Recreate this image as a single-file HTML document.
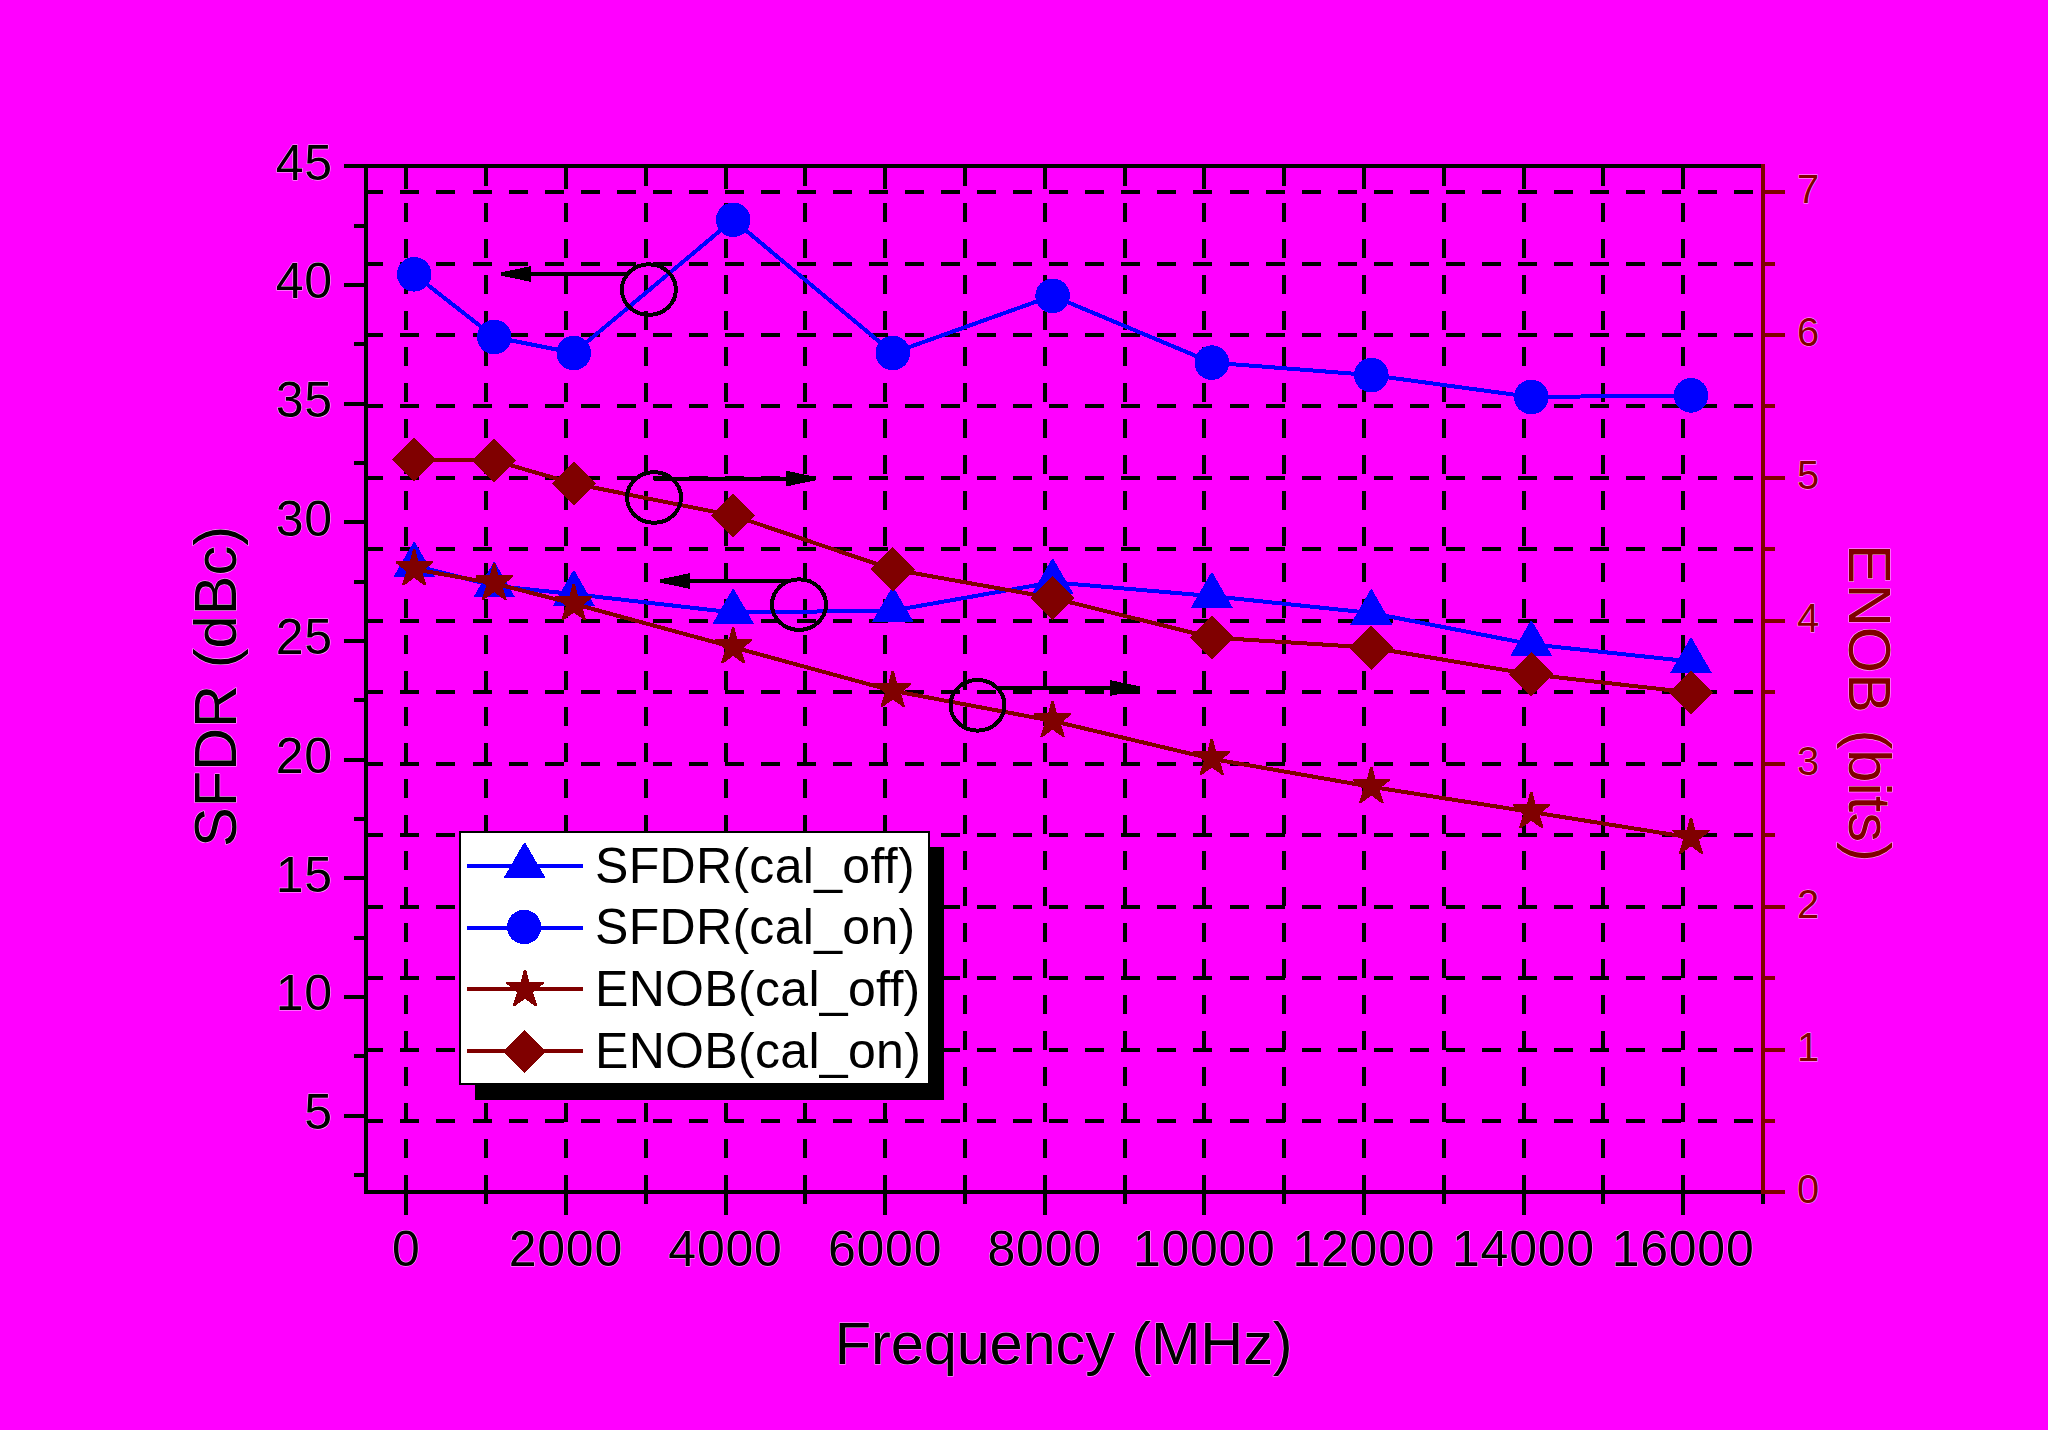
<!DOCTYPE html>
<html lang="en">
<head>
<meta charset="utf-8">
<title>SFDR and ENOB versus Frequency</title>
<style>
html,body{margin:0;padding:0;background:#FF00FF;}
body{width:2048px;height:1430px;overflow:hidden;font-family:"Liberation Sans", sans-serif;}
svg{display:block;position:absolute;left:0;top:0;}
text{font-family:"Liberation Sans", sans-serif;paint-order:stroke fill;stroke:#ffffff;stroke-width:1px;stroke-opacity:0.75;stroke-linejoin:round;}
</style>
</head>
<body>
<svg width="2048" height="1430" viewBox="0 0 2048 1430">
<rect x="0" y="0" width="2048" height="1430" fill="#FF00FF"/>
<g shape-rendering="crispEdges">
<path fill="#000000" d="M404 167h4v19h-4zM404 203h4v19h-4zM404 239h4v19h-4zM404 275h4v19h-4zM404 311h4v19h-4zM404 347h4v19h-4zM404 383h4v19h-4zM404 419h4v19h-4zM404 455h4v19h-4zM404 491h4v19h-4zM404 527h4v19h-4zM404 563h4v19h-4zM404 599h4v19h-4zM404 635h4v19h-4zM404 671h4v19h-4zM404 707h4v19h-4zM404 743h4v19h-4zM404 779h4v19h-4zM404 815h4v19h-4zM404 851h4v19h-4zM404 887h4v19h-4zM404 923h4v19h-4zM404 959h4v19h-4zM404 995h4v19h-4zM404 1031h4v19h-4zM404 1067h4v19h-4zM404 1103h4v19h-4zM404 1139h4v19h-4zM404 1175h4v19h-4zM484 167h4v19h-4zM484 203h4v19h-4zM484 239h4v19h-4zM484 275h4v19h-4zM484 311h4v19h-4zM484 347h4v19h-4zM484 383h4v19h-4zM484 419h4v19h-4zM484 455h4v19h-4zM484 491h4v19h-4zM484 527h4v19h-4zM484 563h4v19h-4zM484 599h4v19h-4zM484 635h4v19h-4zM484 671h4v19h-4zM484 707h4v19h-4zM484 743h4v19h-4zM484 779h4v19h-4zM484 815h4v19h-4zM484 851h4v19h-4zM484 887h4v19h-4zM484 923h4v19h-4zM484 959h4v19h-4zM484 995h4v19h-4zM484 1031h4v19h-4zM484 1067h4v19h-4zM484 1103h4v19h-4zM484 1139h4v19h-4zM484 1175h4v19h-4zM564 167h4v19h-4zM564 203h4v19h-4zM564 239h4v19h-4zM564 275h4v19h-4zM564 311h4v19h-4zM564 347h4v19h-4zM564 383h4v19h-4zM564 419h4v19h-4zM564 455h4v19h-4zM564 491h4v19h-4zM564 527h4v19h-4zM564 563h4v19h-4zM564 599h4v19h-4zM564 635h4v19h-4zM564 671h4v19h-4zM564 707h4v19h-4zM564 743h4v19h-4zM564 779h4v19h-4zM564 815h4v19h-4zM564 851h4v19h-4zM564 887h4v19h-4zM564 923h4v19h-4zM564 959h4v19h-4zM564 995h4v19h-4zM564 1031h4v19h-4zM564 1067h4v19h-4zM564 1103h4v19h-4zM564 1139h4v19h-4zM564 1175h4v19h-4zM644 167h4v19h-4zM644 203h4v19h-4zM644 239h4v19h-4zM644 275h4v19h-4zM644 311h4v19h-4zM644 347h4v19h-4zM644 383h4v19h-4zM644 419h4v19h-4zM644 455h4v19h-4zM644 491h4v19h-4zM644 527h4v19h-4zM644 563h4v19h-4zM644 599h4v19h-4zM644 635h4v19h-4zM644 671h4v19h-4zM644 707h4v19h-4zM644 743h4v19h-4zM644 779h4v19h-4zM644 815h4v19h-4zM644 851h4v19h-4zM644 887h4v19h-4zM644 923h4v19h-4zM644 959h4v19h-4zM644 995h4v19h-4zM644 1031h4v19h-4zM644 1067h4v19h-4zM644 1103h4v19h-4zM644 1139h4v19h-4zM644 1175h4v19h-4zM724 167h4v19h-4zM724 203h4v19h-4zM724 239h4v19h-4zM724 275h4v19h-4zM724 311h4v19h-4zM724 347h4v19h-4zM724 383h4v19h-4zM724 419h4v19h-4zM724 455h4v19h-4zM724 491h4v19h-4zM724 527h4v19h-4zM724 563h4v19h-4zM724 599h4v19h-4zM724 635h4v19h-4zM724 671h4v19h-4zM724 707h4v19h-4zM724 743h4v19h-4zM724 779h4v19h-4zM724 815h4v19h-4zM724 851h4v19h-4zM724 887h4v19h-4zM724 923h4v19h-4zM724 959h4v19h-4zM724 995h4v19h-4zM724 1031h4v19h-4zM724 1067h4v19h-4zM724 1103h4v19h-4zM724 1139h4v19h-4zM724 1175h4v19h-4zM803 167h4v19h-4zM803 203h4v19h-4zM803 239h4v19h-4zM803 275h4v19h-4zM803 311h4v19h-4zM803 347h4v19h-4zM803 383h4v19h-4zM803 419h4v19h-4zM803 455h4v19h-4zM803 491h4v19h-4zM803 527h4v19h-4zM803 563h4v19h-4zM803 599h4v19h-4zM803 635h4v19h-4zM803 671h4v19h-4zM803 707h4v19h-4zM803 743h4v19h-4zM803 779h4v19h-4zM803 815h4v19h-4zM803 851h4v19h-4zM803 887h4v19h-4zM803 923h4v19h-4zM803 959h4v19h-4zM803 995h4v19h-4zM803 1031h4v19h-4zM803 1067h4v19h-4zM803 1103h4v19h-4zM803 1139h4v19h-4zM803 1175h4v19h-4zM883 167h4v19h-4zM883 203h4v19h-4zM883 239h4v19h-4zM883 275h4v19h-4zM883 311h4v19h-4zM883 347h4v19h-4zM883 383h4v19h-4zM883 419h4v19h-4zM883 455h4v19h-4zM883 491h4v19h-4zM883 527h4v19h-4zM883 563h4v19h-4zM883 599h4v19h-4zM883 635h4v19h-4zM883 671h4v19h-4zM883 707h4v19h-4zM883 743h4v19h-4zM883 779h4v19h-4zM883 815h4v19h-4zM883 851h4v19h-4zM883 887h4v19h-4zM883 923h4v19h-4zM883 959h4v19h-4zM883 995h4v19h-4zM883 1031h4v19h-4zM883 1067h4v19h-4zM883 1103h4v19h-4zM883 1139h4v19h-4zM883 1175h4v19h-4zM963 167h4v19h-4zM963 203h4v19h-4zM963 239h4v19h-4zM963 275h4v19h-4zM963 311h4v19h-4zM963 347h4v19h-4zM963 383h4v19h-4zM963 419h4v19h-4zM963 455h4v19h-4zM963 491h4v19h-4zM963 527h4v19h-4zM963 563h4v19h-4zM963 599h4v19h-4zM963 635h4v19h-4zM963 671h4v19h-4zM963 707h4v19h-4zM963 743h4v19h-4zM963 779h4v19h-4zM963 815h4v19h-4zM963 851h4v19h-4zM963 887h4v19h-4zM963 923h4v19h-4zM963 959h4v19h-4zM963 995h4v19h-4zM963 1031h4v19h-4zM963 1067h4v19h-4zM963 1103h4v19h-4zM963 1139h4v19h-4zM963 1175h4v19h-4zM1043 167h4v19h-4zM1043 203h4v19h-4zM1043 239h4v19h-4zM1043 275h4v19h-4zM1043 311h4v19h-4zM1043 347h4v19h-4zM1043 383h4v19h-4zM1043 419h4v19h-4zM1043 455h4v19h-4zM1043 491h4v19h-4zM1043 527h4v19h-4zM1043 563h4v19h-4zM1043 599h4v19h-4zM1043 635h4v19h-4zM1043 671h4v19h-4zM1043 707h4v19h-4zM1043 743h4v19h-4zM1043 779h4v19h-4zM1043 815h4v19h-4zM1043 851h4v19h-4zM1043 887h4v19h-4zM1043 923h4v19h-4zM1043 959h4v19h-4zM1043 995h4v19h-4zM1043 1031h4v19h-4zM1043 1067h4v19h-4zM1043 1103h4v19h-4zM1043 1139h4v19h-4zM1043 1175h4v19h-4zM1123 167h4v19h-4zM1123 203h4v19h-4zM1123 239h4v19h-4zM1123 275h4v19h-4zM1123 311h4v19h-4zM1123 347h4v19h-4zM1123 383h4v19h-4zM1123 419h4v19h-4zM1123 455h4v19h-4zM1123 491h4v19h-4zM1123 527h4v19h-4zM1123 563h4v19h-4zM1123 599h4v19h-4zM1123 635h4v19h-4zM1123 671h4v19h-4zM1123 707h4v19h-4zM1123 743h4v19h-4zM1123 779h4v19h-4zM1123 815h4v19h-4zM1123 851h4v19h-4zM1123 887h4v19h-4zM1123 923h4v19h-4zM1123 959h4v19h-4zM1123 995h4v19h-4zM1123 1031h4v19h-4zM1123 1067h4v19h-4zM1123 1103h4v19h-4zM1123 1139h4v19h-4zM1123 1175h4v19h-4zM1202 167h4v19h-4zM1202 203h4v19h-4zM1202 239h4v19h-4zM1202 275h4v19h-4zM1202 311h4v19h-4zM1202 347h4v19h-4zM1202 383h4v19h-4zM1202 419h4v19h-4zM1202 455h4v19h-4zM1202 491h4v19h-4zM1202 527h4v19h-4zM1202 563h4v19h-4zM1202 599h4v19h-4zM1202 635h4v19h-4zM1202 671h4v19h-4zM1202 707h4v19h-4zM1202 743h4v19h-4zM1202 779h4v19h-4zM1202 815h4v19h-4zM1202 851h4v19h-4zM1202 887h4v19h-4zM1202 923h4v19h-4zM1202 959h4v19h-4zM1202 995h4v19h-4zM1202 1031h4v19h-4zM1202 1067h4v19h-4zM1202 1103h4v19h-4zM1202 1139h4v19h-4zM1202 1175h4v19h-4zM1282 167h4v19h-4zM1282 203h4v19h-4zM1282 239h4v19h-4zM1282 275h4v19h-4zM1282 311h4v19h-4zM1282 347h4v19h-4zM1282 383h4v19h-4zM1282 419h4v19h-4zM1282 455h4v19h-4zM1282 491h4v19h-4zM1282 527h4v19h-4zM1282 563h4v19h-4zM1282 599h4v19h-4zM1282 635h4v19h-4zM1282 671h4v19h-4zM1282 707h4v19h-4zM1282 743h4v19h-4zM1282 779h4v19h-4zM1282 815h4v19h-4zM1282 851h4v19h-4zM1282 887h4v19h-4zM1282 923h4v19h-4zM1282 959h4v19h-4zM1282 995h4v19h-4zM1282 1031h4v19h-4zM1282 1067h4v19h-4zM1282 1103h4v19h-4zM1282 1139h4v19h-4zM1282 1175h4v19h-4zM1362 167h4v19h-4zM1362 203h4v19h-4zM1362 239h4v19h-4zM1362 275h4v19h-4zM1362 311h4v19h-4zM1362 347h4v19h-4zM1362 383h4v19h-4zM1362 419h4v19h-4zM1362 455h4v19h-4zM1362 491h4v19h-4zM1362 527h4v19h-4zM1362 563h4v19h-4zM1362 599h4v19h-4zM1362 635h4v19h-4zM1362 671h4v19h-4zM1362 707h4v19h-4zM1362 743h4v19h-4zM1362 779h4v19h-4zM1362 815h4v19h-4zM1362 851h4v19h-4zM1362 887h4v19h-4zM1362 923h4v19h-4zM1362 959h4v19h-4zM1362 995h4v19h-4zM1362 1031h4v19h-4zM1362 1067h4v19h-4zM1362 1103h4v19h-4zM1362 1139h4v19h-4zM1362 1175h4v19h-4zM1442 167h4v19h-4zM1442 203h4v19h-4zM1442 239h4v19h-4zM1442 275h4v19h-4zM1442 311h4v19h-4zM1442 347h4v19h-4zM1442 383h4v19h-4zM1442 419h4v19h-4zM1442 455h4v19h-4zM1442 491h4v19h-4zM1442 527h4v19h-4zM1442 563h4v19h-4zM1442 599h4v19h-4zM1442 635h4v19h-4zM1442 671h4v19h-4zM1442 707h4v19h-4zM1442 743h4v19h-4zM1442 779h4v19h-4zM1442 815h4v19h-4zM1442 851h4v19h-4zM1442 887h4v19h-4zM1442 923h4v19h-4zM1442 959h4v19h-4zM1442 995h4v19h-4zM1442 1031h4v19h-4zM1442 1067h4v19h-4zM1442 1103h4v19h-4zM1442 1139h4v19h-4zM1442 1175h4v19h-4zM1522 167h4v19h-4zM1522 203h4v19h-4zM1522 239h4v19h-4zM1522 275h4v19h-4zM1522 311h4v19h-4zM1522 347h4v19h-4zM1522 383h4v19h-4zM1522 419h4v19h-4zM1522 455h4v19h-4zM1522 491h4v19h-4zM1522 527h4v19h-4zM1522 563h4v19h-4zM1522 599h4v19h-4zM1522 635h4v19h-4zM1522 671h4v19h-4zM1522 707h4v19h-4zM1522 743h4v19h-4zM1522 779h4v19h-4zM1522 815h4v19h-4zM1522 851h4v19h-4zM1522 887h4v19h-4zM1522 923h4v19h-4zM1522 959h4v19h-4zM1522 995h4v19h-4zM1522 1031h4v19h-4zM1522 1067h4v19h-4zM1522 1103h4v19h-4zM1522 1139h4v19h-4zM1522 1175h4v19h-4zM1601 167h4v19h-4zM1601 203h4v19h-4zM1601 239h4v19h-4zM1601 275h4v19h-4zM1601 311h4v19h-4zM1601 347h4v19h-4zM1601 383h4v19h-4zM1601 419h4v19h-4zM1601 455h4v19h-4zM1601 491h4v19h-4zM1601 527h4v19h-4zM1601 563h4v19h-4zM1601 599h4v19h-4zM1601 635h4v19h-4zM1601 671h4v19h-4zM1601 707h4v19h-4zM1601 743h4v19h-4zM1601 779h4v19h-4zM1601 815h4v19h-4zM1601 851h4v19h-4zM1601 887h4v19h-4zM1601 923h4v19h-4zM1601 959h4v19h-4zM1601 995h4v19h-4zM1601 1031h4v19h-4zM1601 1067h4v19h-4zM1601 1103h4v19h-4zM1601 1139h4v19h-4zM1601 1175h4v19h-4zM1681 167h4v19h-4zM1681 203h4v19h-4zM1681 239h4v19h-4zM1681 275h4v19h-4zM1681 311h4v19h-4zM1681 347h4v19h-4zM1681 383h4v19h-4zM1681 419h4v19h-4zM1681 455h4v19h-4zM1681 491h4v19h-4zM1681 527h4v19h-4zM1681 563h4v19h-4zM1681 599h4v19h-4zM1681 635h4v19h-4zM1681 671h4v19h-4zM1681 707h4v19h-4zM1681 743h4v19h-4zM1681 779h4v19h-4zM1681 815h4v19h-4zM1681 851h4v19h-4zM1681 887h4v19h-4zM1681 923h4v19h-4zM1681 959h4v19h-4zM1681 995h4v19h-4zM1681 1031h4v19h-4zM1681 1067h4v19h-4zM1681 1103h4v19h-4zM1681 1139h4v19h-4zM1681 1175h4v19h-4zM364 1119h19v4h-19zM400 1119h19v4h-19zM436 1119h19v4h-19zM473 1119h19v4h-19zM509 1119h19v4h-19zM545 1119h19v4h-19zM581 1119h19v4h-19zM617 1119h19v4h-19zM653 1119h19v4h-19zM689 1119h19v4h-19zM725 1119h19v4h-19zM761 1119h19v4h-19zM797 1119h19v4h-19zM833 1119h19v4h-19zM869 1119h19v4h-19zM905 1119h19v4h-19zM941 1119h19v4h-19zM977 1119h19v4h-19zM1013 1119h19v4h-19zM1049 1119h19v4h-19zM1085 1119h19v4h-19zM1121 1119h19v4h-19zM1157 1119h19v4h-19zM1193 1119h19v4h-19zM1230 1119h19v4h-19zM1266 1119h19v4h-19zM1302 1119h19v4h-19zM1338 1119h19v4h-19zM1374 1119h19v4h-19zM1410 1119h19v4h-19zM1446 1119h19v4h-19zM1482 1119h19v4h-19zM1518 1119h19v4h-19zM1554 1119h19v4h-19zM1590 1119h19v4h-19zM1626 1119h19v4h-19zM1662 1119h19v4h-19zM1698 1119h19v4h-19zM1734 1119h19v4h-19zM364 1048h19v4h-19zM400 1048h19v4h-19zM436 1048h19v4h-19zM473 1048h19v4h-19zM509 1048h19v4h-19zM545 1048h19v4h-19zM581 1048h19v4h-19zM617 1048h19v4h-19zM653 1048h19v4h-19zM689 1048h19v4h-19zM725 1048h19v4h-19zM761 1048h19v4h-19zM797 1048h19v4h-19zM833 1048h19v4h-19zM869 1048h19v4h-19zM905 1048h19v4h-19zM941 1048h19v4h-19zM977 1048h19v4h-19zM1013 1048h19v4h-19zM1049 1048h19v4h-19zM1085 1048h19v4h-19zM1121 1048h19v4h-19zM1157 1048h19v4h-19zM1193 1048h19v4h-19zM1230 1048h19v4h-19zM1266 1048h19v4h-19zM1302 1048h19v4h-19zM1338 1048h19v4h-19zM1374 1048h19v4h-19zM1410 1048h19v4h-19zM1446 1048h19v4h-19zM1482 1048h19v4h-19zM1518 1048h19v4h-19zM1554 1048h19v4h-19zM1590 1048h19v4h-19zM1626 1048h19v4h-19zM1662 1048h19v4h-19zM1698 1048h19v4h-19zM1734 1048h19v4h-19zM364 976h19v4h-19zM400 976h19v4h-19zM436 976h19v4h-19zM473 976h19v4h-19zM509 976h19v4h-19zM545 976h19v4h-19zM581 976h19v4h-19zM617 976h19v4h-19zM653 976h19v4h-19zM689 976h19v4h-19zM725 976h19v4h-19zM761 976h19v4h-19zM797 976h19v4h-19zM833 976h19v4h-19zM869 976h19v4h-19zM905 976h19v4h-19zM941 976h19v4h-19zM977 976h19v4h-19zM1013 976h19v4h-19zM1049 976h19v4h-19zM1085 976h19v4h-19zM1121 976h19v4h-19zM1157 976h19v4h-19zM1193 976h19v4h-19zM1230 976h19v4h-19zM1266 976h19v4h-19zM1302 976h19v4h-19zM1338 976h19v4h-19zM1374 976h19v4h-19zM1410 976h19v4h-19zM1446 976h19v4h-19zM1482 976h19v4h-19zM1518 976h19v4h-19zM1554 976h19v4h-19zM1590 976h19v4h-19zM1626 976h19v4h-19zM1662 976h19v4h-19zM1698 976h19v4h-19zM1734 976h19v4h-19zM364 905h19v4h-19zM400 905h19v4h-19zM436 905h19v4h-19zM473 905h19v4h-19zM509 905h19v4h-19zM545 905h19v4h-19zM581 905h19v4h-19zM617 905h19v4h-19zM653 905h19v4h-19zM689 905h19v4h-19zM725 905h19v4h-19zM761 905h19v4h-19zM797 905h19v4h-19zM833 905h19v4h-19zM869 905h19v4h-19zM905 905h19v4h-19zM941 905h19v4h-19zM977 905h19v4h-19zM1013 905h19v4h-19zM1049 905h19v4h-19zM1085 905h19v4h-19zM1121 905h19v4h-19zM1157 905h19v4h-19zM1193 905h19v4h-19zM1230 905h19v4h-19zM1266 905h19v4h-19zM1302 905h19v4h-19zM1338 905h19v4h-19zM1374 905h19v4h-19zM1410 905h19v4h-19zM1446 905h19v4h-19zM1482 905h19v4h-19zM1518 905h19v4h-19zM1554 905h19v4h-19zM1590 905h19v4h-19zM1626 905h19v4h-19zM1662 905h19v4h-19zM1698 905h19v4h-19zM1734 905h19v4h-19zM364 833h19v4h-19zM400 833h19v4h-19zM436 833h19v4h-19zM473 833h19v4h-19zM509 833h19v4h-19zM545 833h19v4h-19zM581 833h19v4h-19zM617 833h19v4h-19zM653 833h19v4h-19zM689 833h19v4h-19zM725 833h19v4h-19zM761 833h19v4h-19zM797 833h19v4h-19zM833 833h19v4h-19zM869 833h19v4h-19zM905 833h19v4h-19zM941 833h19v4h-19zM977 833h19v4h-19zM1013 833h19v4h-19zM1049 833h19v4h-19zM1085 833h19v4h-19zM1121 833h19v4h-19zM1157 833h19v4h-19zM1193 833h19v4h-19zM1230 833h19v4h-19zM1266 833h19v4h-19zM1302 833h19v4h-19zM1338 833h19v4h-19zM1374 833h19v4h-19zM1410 833h19v4h-19zM1446 833h19v4h-19zM1482 833h19v4h-19zM1518 833h19v4h-19zM1554 833h19v4h-19zM1590 833h19v4h-19zM1626 833h19v4h-19zM1662 833h19v4h-19zM1698 833h19v4h-19zM1734 833h19v4h-19zM364 762h19v4h-19zM400 762h19v4h-19zM436 762h19v4h-19zM473 762h19v4h-19zM509 762h19v4h-19zM545 762h19v4h-19zM581 762h19v4h-19zM617 762h19v4h-19zM653 762h19v4h-19zM689 762h19v4h-19zM725 762h19v4h-19zM761 762h19v4h-19zM797 762h19v4h-19zM833 762h19v4h-19zM869 762h19v4h-19zM905 762h19v4h-19zM941 762h19v4h-19zM977 762h19v4h-19zM1013 762h19v4h-19zM1049 762h19v4h-19zM1085 762h19v4h-19zM1121 762h19v4h-19zM1157 762h19v4h-19zM1193 762h19v4h-19zM1230 762h19v4h-19zM1266 762h19v4h-19zM1302 762h19v4h-19zM1338 762h19v4h-19zM1374 762h19v4h-19zM1410 762h19v4h-19zM1446 762h19v4h-19zM1482 762h19v4h-19zM1518 762h19v4h-19zM1554 762h19v4h-19zM1590 762h19v4h-19zM1626 762h19v4h-19zM1662 762h19v4h-19zM1698 762h19v4h-19zM1734 762h19v4h-19zM364 690h19v4h-19zM400 690h19v4h-19zM436 690h19v4h-19zM473 690h19v4h-19zM509 690h19v4h-19zM545 690h19v4h-19zM581 690h19v4h-19zM617 690h19v4h-19zM653 690h19v4h-19zM689 690h19v4h-19zM725 690h19v4h-19zM761 690h19v4h-19zM797 690h19v4h-19zM833 690h19v4h-19zM869 690h19v4h-19zM905 690h19v4h-19zM941 690h19v4h-19zM977 690h19v4h-19zM1013 690h19v4h-19zM1049 690h19v4h-19zM1085 690h19v4h-19zM1121 690h19v4h-19zM1157 690h19v4h-19zM1193 690h19v4h-19zM1230 690h19v4h-19zM1266 690h19v4h-19zM1302 690h19v4h-19zM1338 690h19v4h-19zM1374 690h19v4h-19zM1410 690h19v4h-19zM1446 690h19v4h-19zM1482 690h19v4h-19zM1518 690h19v4h-19zM1554 690h19v4h-19zM1590 690h19v4h-19zM1626 690h19v4h-19zM1662 690h19v4h-19zM1698 690h19v4h-19zM1734 690h19v4h-19zM364 619h19v4h-19zM400 619h19v4h-19zM436 619h19v4h-19zM473 619h19v4h-19zM509 619h19v4h-19zM545 619h19v4h-19zM581 619h19v4h-19zM617 619h19v4h-19zM653 619h19v4h-19zM689 619h19v4h-19zM725 619h19v4h-19zM761 619h19v4h-19zM797 619h19v4h-19zM833 619h19v4h-19zM869 619h19v4h-19zM905 619h19v4h-19zM941 619h19v4h-19zM977 619h19v4h-19zM1013 619h19v4h-19zM1049 619h19v4h-19zM1085 619h19v4h-19zM1121 619h19v4h-19zM1157 619h19v4h-19zM1193 619h19v4h-19zM1230 619h19v4h-19zM1266 619h19v4h-19zM1302 619h19v4h-19zM1338 619h19v4h-19zM1374 619h19v4h-19zM1410 619h19v4h-19zM1446 619h19v4h-19zM1482 619h19v4h-19zM1518 619h19v4h-19zM1554 619h19v4h-19zM1590 619h19v4h-19zM1626 619h19v4h-19zM1662 619h19v4h-19zM1698 619h19v4h-19zM1734 619h19v4h-19zM364 547h19v4h-19zM400 547h19v4h-19zM436 547h19v4h-19zM473 547h19v4h-19zM509 547h19v4h-19zM545 547h19v4h-19zM581 547h19v4h-19zM617 547h19v4h-19zM653 547h19v4h-19zM689 547h19v4h-19zM725 547h19v4h-19zM761 547h19v4h-19zM797 547h19v4h-19zM833 547h19v4h-19zM869 547h19v4h-19zM905 547h19v4h-19zM941 547h19v4h-19zM977 547h19v4h-19zM1013 547h19v4h-19zM1049 547h19v4h-19zM1085 547h19v4h-19zM1121 547h19v4h-19zM1157 547h19v4h-19zM1193 547h19v4h-19zM1230 547h19v4h-19zM1266 547h19v4h-19zM1302 547h19v4h-19zM1338 547h19v4h-19zM1374 547h19v4h-19zM1410 547h19v4h-19zM1446 547h19v4h-19zM1482 547h19v4h-19zM1518 547h19v4h-19zM1554 547h19v4h-19zM1590 547h19v4h-19zM1626 547h19v4h-19zM1662 547h19v4h-19zM1698 547h19v4h-19zM1734 547h19v4h-19zM364 476h19v4h-19zM400 476h19v4h-19zM436 476h19v4h-19zM473 476h19v4h-19zM509 476h19v4h-19zM545 476h19v4h-19zM581 476h19v4h-19zM617 476h19v4h-19zM653 476h19v4h-19zM689 476h19v4h-19zM725 476h19v4h-19zM761 476h19v4h-19zM797 476h19v4h-19zM833 476h19v4h-19zM869 476h19v4h-19zM905 476h19v4h-19zM941 476h19v4h-19zM977 476h19v4h-19zM1013 476h19v4h-19zM1049 476h19v4h-19zM1085 476h19v4h-19zM1121 476h19v4h-19zM1157 476h19v4h-19zM1193 476h19v4h-19zM1230 476h19v4h-19zM1266 476h19v4h-19zM1302 476h19v4h-19zM1338 476h19v4h-19zM1374 476h19v4h-19zM1410 476h19v4h-19zM1446 476h19v4h-19zM1482 476h19v4h-19zM1518 476h19v4h-19zM1554 476h19v4h-19zM1590 476h19v4h-19zM1626 476h19v4h-19zM1662 476h19v4h-19zM1698 476h19v4h-19zM1734 476h19v4h-19zM364 404h19v4h-19zM400 404h19v4h-19zM436 404h19v4h-19zM473 404h19v4h-19zM509 404h19v4h-19zM545 404h19v4h-19zM581 404h19v4h-19zM617 404h19v4h-19zM653 404h19v4h-19zM689 404h19v4h-19zM725 404h19v4h-19zM761 404h19v4h-19zM797 404h19v4h-19zM833 404h19v4h-19zM869 404h19v4h-19zM905 404h19v4h-19zM941 404h19v4h-19zM977 404h19v4h-19zM1013 404h19v4h-19zM1049 404h19v4h-19zM1085 404h19v4h-19zM1121 404h19v4h-19zM1157 404h19v4h-19zM1193 404h19v4h-19zM1230 404h19v4h-19zM1266 404h19v4h-19zM1302 404h19v4h-19zM1338 404h19v4h-19zM1374 404h19v4h-19zM1410 404h19v4h-19zM1446 404h19v4h-19zM1482 404h19v4h-19zM1518 404h19v4h-19zM1554 404h19v4h-19zM1590 404h19v4h-19zM1626 404h19v4h-19zM1662 404h19v4h-19zM1698 404h19v4h-19zM1734 404h19v4h-19zM364 333h19v4h-19zM400 333h19v4h-19zM436 333h19v4h-19zM473 333h19v4h-19zM509 333h19v4h-19zM545 333h19v4h-19zM581 333h19v4h-19zM617 333h19v4h-19zM653 333h19v4h-19zM689 333h19v4h-19zM725 333h19v4h-19zM761 333h19v4h-19zM797 333h19v4h-19zM833 333h19v4h-19zM869 333h19v4h-19zM905 333h19v4h-19zM941 333h19v4h-19zM977 333h19v4h-19zM1013 333h19v4h-19zM1049 333h19v4h-19zM1085 333h19v4h-19zM1121 333h19v4h-19zM1157 333h19v4h-19zM1193 333h19v4h-19zM1230 333h19v4h-19zM1266 333h19v4h-19zM1302 333h19v4h-19zM1338 333h19v4h-19zM1374 333h19v4h-19zM1410 333h19v4h-19zM1446 333h19v4h-19zM1482 333h19v4h-19zM1518 333h19v4h-19zM1554 333h19v4h-19zM1590 333h19v4h-19zM1626 333h19v4h-19zM1662 333h19v4h-19zM1698 333h19v4h-19zM1734 333h19v4h-19zM364 262h19v4h-19zM400 262h19v4h-19zM436 262h19v4h-19zM473 262h19v4h-19zM509 262h19v4h-19zM545 262h19v4h-19zM581 262h19v4h-19zM617 262h19v4h-19zM653 262h19v4h-19zM689 262h19v4h-19zM725 262h19v4h-19zM761 262h19v4h-19zM797 262h19v4h-19zM833 262h19v4h-19zM869 262h19v4h-19zM905 262h19v4h-19zM941 262h19v4h-19zM977 262h19v4h-19zM1013 262h19v4h-19zM1049 262h19v4h-19zM1085 262h19v4h-19zM1121 262h19v4h-19zM1157 262h19v4h-19zM1193 262h19v4h-19zM1230 262h19v4h-19zM1266 262h19v4h-19zM1302 262h19v4h-19zM1338 262h19v4h-19zM1374 262h19v4h-19zM1410 262h19v4h-19zM1446 262h19v4h-19zM1482 262h19v4h-19zM1518 262h19v4h-19zM1554 262h19v4h-19zM1590 262h19v4h-19zM1626 262h19v4h-19zM1662 262h19v4h-19zM1698 262h19v4h-19zM1734 262h19v4h-19zM364 190h19v4h-19zM400 190h19v4h-19zM436 190h19v4h-19zM473 190h19v4h-19zM509 190h19v4h-19zM545 190h19v4h-19zM581 190h19v4h-19zM617 190h19v4h-19zM653 190h19v4h-19zM689 190h19v4h-19zM725 190h19v4h-19zM761 190h19v4h-19zM797 190h19v4h-19zM833 190h19v4h-19zM869 190h19v4h-19zM905 190h19v4h-19zM941 190h19v4h-19zM977 190h19v4h-19zM1013 190h19v4h-19zM1049 190h19v4h-19zM1085 190h19v4h-19zM1121 190h19v4h-19zM1157 190h19v4h-19zM1193 190h19v4h-19zM1230 190h19v4h-19zM1266 190h19v4h-19zM1302 190h19v4h-19zM1338 190h19v4h-19zM1374 190h19v4h-19zM1410 190h19v4h-19zM1446 190h19v4h-19zM1482 190h19v4h-19zM1518 190h19v4h-19zM1554 190h19v4h-19zM1590 190h19v4h-19zM1626 190h19v4h-19zM1662 190h19v4h-19zM1698 190h19v4h-19zM1734 190h19v4h-19z"/>
<path fill="#000000" d="M364 164H368V1194H364zM344 164H1765V168H344zM364 1190H1765V1194H364zM344 164H364V168H344zM354 224H364V228H354zM344 283H364V287H344zM354 342H364V346H354zM344 402H364V406H344zM354 461H364V465H354zM344 520H364V524H344zM354 580H364V584H354zM344 639H364V643H344zM354 698H364V702H354zM344 758H364V762H344zM354 817H364V821H354zM344 876H364V880H344zM354 936H364V940H354zM344 995H364V999H344zM354 1054H364V1058H354zM344 1114H364V1118H344zM354 1173H364V1177H354zM404 1194H408V1215H404zM404 168H408V189H404zM484 1194H488V1204H484zM484 168H488V178H484zM564 1194H568V1215H564zM564 168H568V189H564zM644 1194H648V1204H644zM644 168H648V178H644zM724 1194H728V1215H724zM724 168H728V189H724zM803 1194H807V1204H803zM803 168H807V178H803zM883 1194H887V1215H883zM883 168H887V189H883zM963 1194H967V1204H963zM963 168H967V178H963zM1043 1194H1047V1215H1043zM1043 168H1047V189H1043zM1123 1194H1127V1204H1123zM1123 168H1127V178H1123zM1202 1194H1206V1215H1202zM1202 168H1206V189H1202zM1282 1194H1286V1204H1282zM1282 168H1286V178H1282zM1362 1194H1366V1215H1362zM1362 168H1366V189H1362zM1442 1194H1446V1204H1442zM1442 168H1446V178H1442zM1522 1194H1526V1215H1522zM1522 168H1526V189H1522zM1601 1194H1605V1204H1601zM1601 168H1605V178H1601zM1681 1194H1685V1215H1681zM1681 168H1685V189H1681zM1761 1194H1765V1204H1761z"/>
<polyline points="414.2,565.5 494.2,585.8 573.8,594.1 733.2,612.5 892.8,610.6 1052.6,582.3 1211.8,596.1 1371.3,613 1531.3,644.3 1691,661.5" fill="none" stroke="#0000FF" stroke-width="4" stroke-linejoin="round"/>
<polygon fill="#0000FF" points="413.6,541.9 414.8,541.9 435.1,577.1 393.3,577.1"/>
<polygon fill="#0000FF" points="493.6,562.2 494.8,562.2 515.1,597.4 473.3,597.4"/>
<polygon fill="#0000FF" points="573.2,570.5 574.4,570.5 594.7,605.7 552.9,605.7"/>
<polygon fill="#0000FF" points="732.6,588.9 733.8,588.9 754.1,624.1 712.3,624.1"/>
<polygon fill="#0000FF" points="892.2,587 893.4,587 913.7,622.2 871.9,622.2"/>
<polygon fill="#0000FF" points="1052,558.7 1053.2,558.7 1073.5,593.9 1031.7,593.9"/>
<polygon fill="#0000FF" points="1211.2,572.5 1212.4,572.5 1232.7,607.7 1190.9,607.7"/>
<polygon fill="#0000FF" points="1370.7,589.4 1371.9,589.4 1392.2,624.6 1350.4,624.6"/>
<polygon fill="#0000FF" points="1530.7,620.7 1531.9,620.7 1552.2,655.9 1510.4,655.9"/>
<polygon fill="#0000FF" points="1690.4,637.9 1691.6,637.9 1711.9,673.1 1670.1,673.1"/>
<polyline points="414.2,274.3 494.2,337 573.8,353 733.2,219.8 892.8,353 1052.6,295.8 1211.8,362.6 1371.3,375.1 1531.3,397 1691,395.4" fill="none" stroke="#0000FF" stroke-width="4" stroke-linejoin="round"/>
<circle cx="414.2" cy="274.3" r="17.3" fill="#0000FF"/>
<circle cx="494.2" cy="337" r="17.3" fill="#0000FF"/>
<circle cx="573.8" cy="353" r="17.3" fill="#0000FF"/>
<circle cx="733.2" cy="219.8" r="17.3" fill="#0000FF"/>
<circle cx="892.8" cy="353" r="17.3" fill="#0000FF"/>
<circle cx="1052.6" cy="295.8" r="17.3" fill="#0000FF"/>
<circle cx="1211.8" cy="362.6" r="17.3" fill="#0000FF"/>
<circle cx="1371.3" cy="375.1" r="17.3" fill="#0000FF"/>
<circle cx="1531.3" cy="397" r="17.3" fill="#0000FF"/>
<circle cx="1691" cy="395.4" r="17.3" fill="#0000FF"/>
<path fill="#800000" d="M1761 164H1765V1194H1761zM1765 1190H1785V1194H1765zM1765 1119H1775V1123H1765zM1765 1048H1785V1052H1765zM1765 976H1775V980H1765zM1765 905H1785V909H1765zM1765 833H1775V837H1765zM1765 762H1785V766H1765zM1765 690H1775V694H1765zM1765 619H1785V623H1765zM1765 547H1775V551H1765zM1765 476H1785V480H1765zM1765 404H1775V408H1765zM1765 333H1785V337H1765zM1765 262H1775V266H1765zM1765 190H1785V194H1765z"/>
<polyline points="414.2,569.2 494.2,583.4 573.8,603.8 733.2,647.2 892.8,690.8 1052.6,720.9 1211.8,758.8 1371.3,786.8 1531.3,812 1691,837.6" fill="none" stroke="#800000" stroke-width="4" stroke-linejoin="round"/>
<polygon fill="#800000" points="413.00,549.20 415.40,549.20 418.40,561.20 432.80,561.20 432.80,562.90 422.20,571.40 426.60,585.40 424.40,585.40 414.20,578.00 404.00,585.40 401.80,585.40 406.20,571.40 395.60,562.90 395.60,561.20 410.00,561.20"/>
<polygon fill="#800000" points="493.00,563.40 495.40,563.40 498.40,575.40 512.80,575.40 512.80,577.10 502.20,585.60 506.60,599.60 504.40,599.60 494.20,592.20 484.00,599.60 481.80,599.60 486.20,585.60 475.60,577.10 475.60,575.40 490.00,575.40"/>
<polygon fill="#800000" points="572.60,583.80 575.00,583.80 578.00,595.80 592.40,595.80 592.40,597.50 581.80,606.00 586.20,620.00 584.00,620.00 573.80,612.60 563.60,620.00 561.40,620.00 565.80,606.00 555.20,597.50 555.20,595.80 569.60,595.80"/>
<polygon fill="#800000" points="732.00,627.20 734.40,627.20 737.40,639.20 751.80,639.20 751.80,640.90 741.20,649.40 745.60,663.40 743.40,663.40 733.20,656.00 723.00,663.40 720.80,663.40 725.20,649.40 714.60,640.90 714.60,639.20 729.00,639.20"/>
<polygon fill="#800000" points="891.60,670.80 894.00,670.80 897.00,682.80 911.40,682.80 911.40,684.50 900.80,693.00 905.20,707.00 903.00,707.00 892.80,699.60 882.60,707.00 880.40,707.00 884.80,693.00 874.20,684.50 874.20,682.80 888.60,682.80"/>
<polygon fill="#800000" points="1051.40,700.90 1053.80,700.90 1056.80,712.90 1071.20,712.90 1071.20,714.60 1060.60,723.10 1065.00,737.10 1062.80,737.10 1052.60,729.70 1042.40,737.10 1040.20,737.10 1044.60,723.10 1034.00,714.60 1034.00,712.90 1048.40,712.90"/>
<polygon fill="#800000" points="1210.60,738.80 1213.00,738.80 1216.00,750.80 1230.40,750.80 1230.40,752.50 1219.80,761.00 1224.20,775.00 1222.00,775.00 1211.80,767.60 1201.60,775.00 1199.40,775.00 1203.80,761.00 1193.20,752.50 1193.20,750.80 1207.60,750.80"/>
<polygon fill="#800000" points="1370.10,766.80 1372.50,766.80 1375.50,778.80 1389.90,778.80 1389.90,780.50 1379.30,789.00 1383.70,803.00 1381.50,803.00 1371.30,795.60 1361.10,803.00 1358.90,803.00 1363.30,789.00 1352.70,780.50 1352.70,778.80 1367.10,778.80"/>
<polygon fill="#800000" points="1530.10,792.00 1532.50,792.00 1535.50,804.00 1549.90,804.00 1549.90,805.70 1539.30,814.20 1543.70,828.20 1541.50,828.20 1531.30,820.80 1521.10,828.20 1518.90,828.20 1523.30,814.20 1512.70,805.70 1512.70,804.00 1527.10,804.00"/>
<polygon fill="#800000" points="1689.80,817.60 1692.20,817.60 1695.20,829.60 1709.60,829.60 1709.60,831.30 1699.00,839.80 1703.40,853.80 1701.20,853.80 1691.00,846.40 1680.80,853.80 1678.60,853.80 1683.00,839.80 1672.40,831.30 1672.40,829.60 1686.80,829.60"/>
<polyline points="414.2,459.5 494.2,460.5 573.8,483.6 733.2,515.5 892.8,569.4 1052.6,598 1211.8,637.5 1371.3,647.6 1531.3,674.4 1691,692.5" fill="none" stroke="#800000" stroke-width="4" stroke-linejoin="round"/>
<polygon fill="#800000" points="414.2,437.3 436.4,459.5 414.2,481.7 392,459.5"/>
<polygon fill="#800000" points="494.2,438.3 516.4,460.5 494.2,482.7 472,460.5"/>
<polygon fill="#800000" points="573.8,461.4 596,483.6 573.8,505.8 551.6,483.6"/>
<polygon fill="#800000" points="733.2,493.3 755.4,515.5 733.2,537.7 711,515.5"/>
<polygon fill="#800000" points="892.8,547.2 915,569.4 892.8,591.6 870.6,569.4"/>
<polygon fill="#800000" points="1052.6,575.8 1074.8,598 1052.6,620.2 1030.4,598"/>
<polygon fill="#800000" points="1211.8,615.3 1234,637.5 1211.8,659.7 1189.6,637.5"/>
<polygon fill="#800000" points="1371.3,625.4 1393.5,647.6 1371.3,669.8 1349.1,647.6"/>
<polygon fill="#800000" points="1531.3,652.2 1553.5,674.4 1531.3,696.6 1509.1,674.4"/>
<polygon fill="#800000" points="1691,670.3 1713.2,692.5 1691,714.7 1668.8,692.5"/>
<ellipse cx="648.9" cy="289.6" rx="27" ry="25.3" fill="none" stroke="#000000" stroke-width="4"/>
<rect x="531" y="272" width="97" height="4" fill="#000000"/>
<polygon fill="#000000" points="501,272.4 531,266.1 531,281.9 501,275.6"/>
<ellipse cx="654" cy="497.5" rx="27" ry="25.3" fill="none" stroke="#000000" stroke-width="4"/>
<rect x="654" y="476.6" width="132" height="4" fill="#000000"/>
<polygon fill="#000000" points="816,477 786,470.7 786,486.5 816,480.2"/>
<ellipse cx="799" cy="604.6" rx="27" ry="25.3" fill="none" stroke="#000000" stroke-width="4"/>
<rect x="690" y="579" width="100" height="4" fill="#000000"/>
<polygon fill="#000000" points="660,579.4 690,573.1 690,588.9 660,582.6"/>
<ellipse cx="977.5" cy="705.3" rx="27" ry="25.3" fill="none" stroke="#000000" stroke-width="4"/>
<rect x="996" y="686" width="114" height="4" fill="#000000"/>
<polygon fill="#000000" points="1140,686.4 1110,680.1 1110,695.9 1140,689.6"/>
<rect x="475" y="847" width="469" height="253" fill="#000000"/>
<rect x="459" y="831" width="471" height="254" fill="#000000"/>
<rect x="461" y="833" width="467" height="250" fill="#FFFFFF"/>
<rect x="467" y="864" width="116" height="4" fill="#0000FF"/>
<rect x="467" y="926" width="116" height="4" fill="#0000FF"/>
<rect x="467" y="987" width="116" height="4" fill="#800000"/>
<rect x="467" y="1049" width="116" height="4" fill="#800000"/>
<polygon fill="#0000FF" points="524,842.7 525.2,842.7 545.5,877.9 503.7,877.9"/>
<circle cx="524.1" cy="927" r="17.2" fill="#0000FF"/>
<polygon fill="#800000" points="523.80,970.00 526.20,970.00 529.20,982.00 543.60,982.00 543.60,983.70 533.00,992.20 537.40,1006.20 535.20,1006.20 525.00,998.80 514.80,1006.20 512.60,1006.20 517.00,992.20 506.40,983.70 506.40,982.00 520.80,982.00"/>
<polygon fill="#800000" points="524.6,1030 546.2,1051.6 524.6,1073.2 503,1051.6"/>
</g>
<g>
<text x="332.75" y="179.6" font-size="50" fill="#000000" text-anchor="end" letter-spacing="0.75">45</text>
<text x="332.75" y="298.267" font-size="50" fill="#000000" text-anchor="end" letter-spacing="0.75">40</text>
<text x="332.75" y="416.933" font-size="50" fill="#000000" text-anchor="end" letter-spacing="0.75">35</text>
<text x="332.75" y="535.6" font-size="50" fill="#000000" text-anchor="end" letter-spacing="0.75">30</text>
<text x="332.75" y="654.267" font-size="50" fill="#000000" text-anchor="end" letter-spacing="0.75">25</text>
<text x="332.75" y="772.933" font-size="50" fill="#000000" text-anchor="end" letter-spacing="0.75">20</text>
<text x="332.75" y="891.6" font-size="50" fill="#000000" text-anchor="end" letter-spacing="0.75">15</text>
<text x="332.75" y="1010.27" font-size="50" fill="#000000" text-anchor="end" letter-spacing="0.75">10</text>
<text x="332.75" y="1128.93" font-size="50" fill="#000000" text-anchor="end" letter-spacing="0.75">5</text>
<text x="406.275" y="1266" font-size="50" fill="#000000" text-anchor="middle" letter-spacing="0.75">0</text>
<text x="565.875" y="1266" font-size="50" fill="#000000" text-anchor="middle" letter-spacing="0.75">2000</text>
<text x="725.475" y="1266" font-size="50" fill="#000000" text-anchor="middle" letter-spacing="0.75">4000</text>
<text x="885.075" y="1266" font-size="50" fill="#000000" text-anchor="middle" letter-spacing="0.75">6000</text>
<text x="1044.67" y="1266" font-size="50" fill="#000000" text-anchor="middle" letter-spacing="0.75">8000</text>
<text x="1204.28" y="1266" font-size="50" fill="#000000" text-anchor="middle" letter-spacing="0.75">10000</text>
<text x="1363.88" y="1266" font-size="50" fill="#000000" text-anchor="middle" letter-spacing="0.75">12000</text>
<text x="1523.47" y="1266" font-size="50" fill="#000000" text-anchor="middle" letter-spacing="0.75">14000</text>
<text x="1683.07" y="1266" font-size="50" fill="#000000" text-anchor="middle" letter-spacing="0.75">16000</text>
<text x="1797" y="1203" font-size="40" fill="#800000" text-anchor="start">0</text>
<text x="1797" y="1061" font-size="40" fill="#800000" text-anchor="start">1</text>
<text x="1797" y="918" font-size="40" fill="#800000" text-anchor="start">2</text>
<text x="1797" y="775" font-size="40" fill="#800000" text-anchor="start">3</text>
<text x="1797" y="632" font-size="40" fill="#800000" text-anchor="start">4</text>
<text x="1797" y="489" font-size="40" fill="#800000" text-anchor="start">5</text>
<text x="1797" y="346" font-size="40" fill="#800000" text-anchor="start">6</text>
<text x="1797" y="203" font-size="40" fill="#800000" text-anchor="start">7</text>
<text x="595" y="883" font-size="50" fill="#000000" text-anchor="start" letter-spacing="0.32">SFDR(cal_off)</text>
<text x="595" y="943.7" font-size="50" fill="#000000" text-anchor="start" letter-spacing="0.32">SFDR(cal_on)</text>
<text x="595" y="1006" font-size="50" fill="#000000" text-anchor="start" letter-spacing="0.32">ENOB(cal_off)</text>
<text x="595" y="1068" font-size="50" fill="#000000" text-anchor="start" letter-spacing="0.32">ENOB(cal_on)</text>
<text x="834.8" y="1364" font-size="59.6" fill="#000000" text-anchor="start" letter-spacing="-0.17">Frequency (MHz)</text>
<text x="0" y="0" font-size="59.6" fill="#000000" text-anchor="middle" transform="translate(236 686.5) rotate(-90)">SFDR (dBc)</text>
<text x="0" y="0" font-size="59.6" fill="#800000" text-anchor="middle" transform="translate(1849 703) rotate(90)">ENOB (bits)</text>
</g>
</svg>
</body>
</html>
